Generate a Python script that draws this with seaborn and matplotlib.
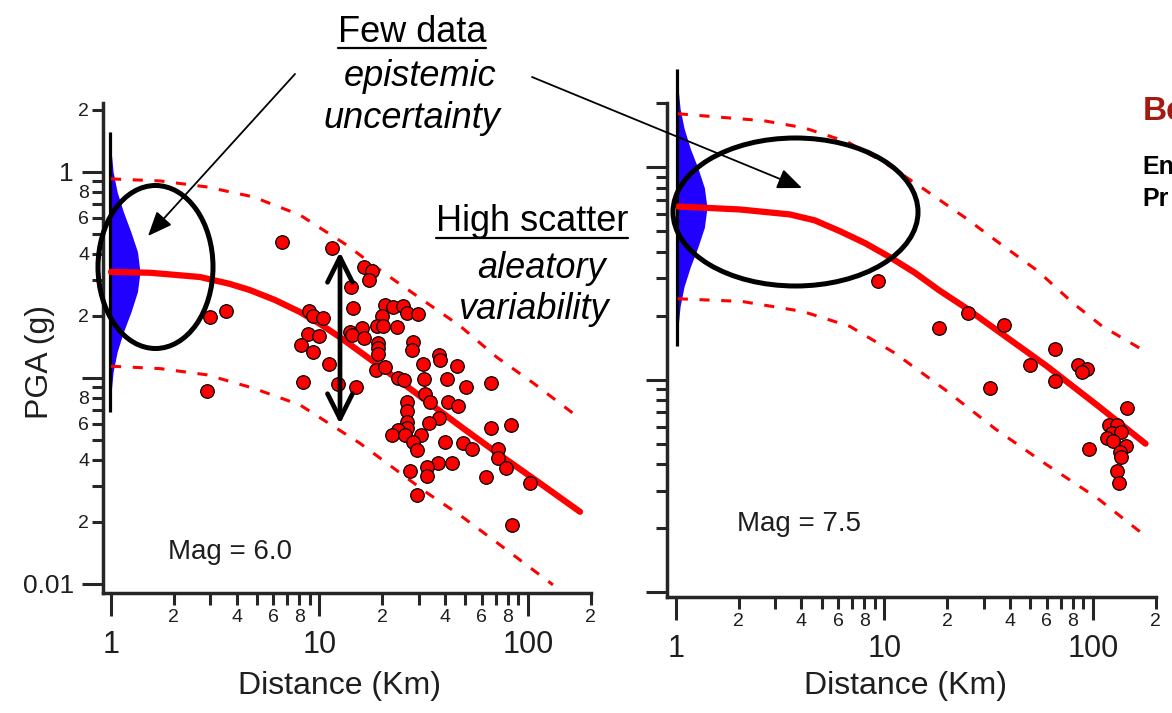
import seaborn as sns
import matplotlib.pyplot as plt
from matplotlib.patches import Ellipse, FancyArrowPatch
from matplotlib.lines import Line2D

W, H = 1172, 713

# ---- Mag 6.0 panel: recordings (distance km, PGA g) ----
m6_dist = [6.6, 11.5, 16.3, 17.9, 17.3, 14.2, 14.5, 8.9, 9.3, 10.4,
           20.6, 22.5, 25.1, 26.3, 29.7, 19.9, 18.9, 20.2, 23.5, 16.0,
           14.0, 14.3, 16.3, 8.8, 9.95, 8.2, 9.3, 19.1, 19.1, 19.1,
           28.1, 27.8, 37.4, 37.8, 11.1, 31.3, 45.6, 18.7, 20.6, 23.8,
           25.4, 31.7, 40.9, 50.4, 66.5, 8.3, 12.3, 15.0, 32.1, 33.9,
           26.3, 26.3, 41.3, 46.1, 37.4, 33.5, 26.3, 26.3, 23.8, 22.3,
           25.7, 30.7, 28.1, 29.4, 40.0, 48.8, 53.9, 66.5, 82.9, 71.8,
           71.8, 78.4, 37.0, 43.2, 32.8, 27.2, 32.8, 62.9, 102, 29.4,
           83.8, 3.0, 3.56, 2.89]
m6_pga = [0.457, 0.428, 0.346, 0.330, 0.299, 0.277, 0.219, 0.211, 0.200, 0.196,
          0.226, 0.221, 0.224, 0.207, 0.205, 0.200, 0.179, 0.179, 0.177, 0.175,
          0.167, 0.162, 0.156, 0.164, 0.160, 0.145, 0.134, 0.148, 0.140, 0.131,
          0.150, 0.137, 0.129, 0.122, 0.117, 0.117, 0.114, 0.109, 0.113, 0.100,
          0.098, 0.099, 0.099, 0.0904, 0.0945, 0.096, 0.0935, 0.0904, 0.0836, 0.0765,
          0.0765, 0.0692, 0.0765, 0.0731, 0.0640, 0.0605, 0.0611, 0.0571, 0.0560, 0.0529,
          0.0529, 0.0529, 0.0489, 0.0447, 0.0489, 0.0484, 0.0452, 0.0571, 0.0591, 0.0452,
          0.0409, 0.0366, 0.0387, 0.0387, 0.0370, 0.0354, 0.0334, 0.0331, 0.0309, 0.0270,
          0.0193, 0.198, 0.211, 0.0865]

# median and +/- curves
m6_med_dist = [1.0, 1.54, 2.67, 3.72, 4.64, 6.12, 8.06, 10.05, 12.5, 19.5, 30.3, 47.2,
               73.4, 114, 178]
m6_med_pga = [0.327, 0.324, 0.309, 0.286, 0.267, 0.239, 0.209, 0.183, 0.158, 0.114,
              0.0818, 0.0585, 0.0423, 0.0309, 0.0224]
m6_hi_dist = [1.0, 1.72, 2.89, 4.80, 8.06, 13.5, 19.5, 31.3, 47.2, 71.0, 106, 164]
m6_hi_pga = [0.925, 0.904, 0.845, 0.757, 0.618, 0.442, 0.334, 0.239, 0.179, 0.126, 0.0946, 0.0676]
m6_lo_dist = [1.0, 1.72, 2.89, 4.80, 8.06, 15.6, 32.8, 47.2, 73.4, 132]
m6_lo_pga = [0.114, 0.111, 0.1035, 0.0893, 0.0740, 0.0483, 0.0277, 0.0216, 0.0155, 0.0099]

# distribution sketch at 1 km (pga level, right edge distance)
m6_blue_pga = [1.57, 1.25, 1.00, 0.80, 0.64, 0.51, 0.41, 0.327, 0.262, 0.209, 0.167, 0.134,
               0.107, 0.0855, 0.0684]
m6_blue_edge = [0.993, 1.002, 1.023, 1.070, 1.146, 1.246, 1.339, 1.377, 1.339, 1.246, 1.146,
                1.070, 1.023, 1.002, 0.993]
m6_blue_base = 0.989

# ---- Mag 7.5 panel ----
m75_dist = [9.29, 25.1, 18.2, 37.3, 65.5, 50.2, 85.3, 94.2, 89.1, 66.2, 32.0, 146.5,
            120, 131, 124, 137, 117.5, 125.5, 145, 135.6, 137, 96.3, 131, 134]
m75_pga = [0.292, 0.205, 0.175, 0.180, 0.139, 0.1175, 0.1175, 0.1125, 0.109, 0.098, 0.0908, 0.0733,
           0.0611, 0.0611, 0.0561, 0.0566, 0.0532, 0.0515, 0.0488, 0.0457, 0.0430, 0.0472, 0.0373, 0.0325]

m75_med_dist = [1.02, 2.03, 3.52, 4.63, 6.11, 8.05, 10.6, 14.0, 18.4, 24.3, 35.7, 59.9, 105, 179]
m75_med_pga = [0.652, 0.631, 0.598, 0.561, 0.499, 0.439, 0.377, 0.318, 0.262, 0.219, 0.167,
               0.116, 0.0757, 0.0499]
m75_hi_dist = [1.02, 2.64, 4.10, 6.67, 10.0, 16.1, 24.3, 36.1, 54.3, 80.7, 111, 171]
m75_hi_pga = [1.78, 1.65, 1.53, 1.31, 1.05, 0.766, 0.579, 0.434, 0.325, 0.228, 0.178, 0.139]
m75_lo_dist = [1.02, 2.07, 4.06, 6.82, 11.1, 19.5, 34.1, 59.9, 105, 171]
m75_lo_pga = [0.240, 0.233, 0.209, 0.178, 0.134, 0.0897, 0.0585, 0.0398, 0.0277, 0.0190]

m75_blue_pga = [2.88, 2.33, 1.88, 1.52, 1.22, 0.989, 0.798, 0.644, 0.520, 0.420, 0.339, 0.274,
                0.221, 0.178, 0.144]
m75_blue_edge = [1.016, 1.024, 1.046, 1.093, 1.171, 1.273, 1.368, 1.408, 1.368, 1.273, 1.171,
                 1.093, 1.046, 1.024, 1.016]
m75_blue_base = 1.011

# ---- ticks ----
x_major = [1, 10, 100]
x_major_lbl = ['1', '10', '100']
x_minor = [2, 3, 4, 5, 6, 7, 8, 9, 20, 30, 40, 50, 60, 70, 80, 90, 200]
x_minor_lbl = ['2', '', '4', '', '6', '', '8', '', '2', '', '4', '', '6', '', '8', '', '2']
y_major = [0.01, 0.1, 1]
y_major_lbl = ['0.01', '', '1']
y_minor = [0.02, 0.03, 0.04, 0.05, 0.06, 0.07, 0.08, 0.09,
           0.2, 0.3, 0.4, 0.5, 0.6, 0.7, 0.8, 0.9, 2]
y_minor_lbl = ['2', '', '4', '', '6', '', '8', '', '2', '', '4', '', '6', '', '8', '', '2']

sns.set_style('ticks')
plt.rcParams['font.family'] = ['Liberation Sans', 'DejaVu Sans']

RED = '#ff0000'
BLUE = '#2200ff'
INK = '#1e1e1e'


def fx(px):
    return px / W


def fy(py):
    return 1 - py / H


fig = plt.figure(figsize=(W / 100, H / 100), dpi=100)
ax1 = fig.add_axes([fx(103), fy(593), 488 / W, 490 / H])
ax2 = fig.add_axes([fx(667), fy(597), 489 / W, 494 / H])


def draw_panel(ax, dist, pga, med_d, med_p, hi_d, hi_p, lo_d, lo_p,
               blue_p, blue_e, blue_b, xlim, ylim, ylabels):
    ax.set_xscale('log')
    ax.set_yscale('log')
    ax.set_xlim(*xlim)
    ax.set_ylim(*ylim)

    ax.fill_betweenx(blue_p, blue_b, blue_e, color=BLUE, lw=0, zorder=2, clip_on=False)
    ax.plot([blue_b, blue_b], [blue_p[0], blue_p[-1]], color='black', lw=2.3,
            zorder=3, clip_on=False, solid_capstyle='butt')

    for d, p in [(hi_d, hi_p), (lo_d, lo_p)]:
        sns.lineplot(x=d, y=p, ax=ax, color=RED, lw=2.2, sort=False, estimator=None,
                     linestyle=(0, (3.3, 3.8)), zorder=3)
    sns.lineplot(x=med_d, y=med_p, ax=ax, color=RED, lw=4.5, sort=False,
                 estimator=None, zorder=4)
    sns.scatterplot(x=dist, y=pga, ax=ax, s=95, color=RED, edgecolor='black',
                    linewidth=0.9, zorder=5)

    ax.set_xticks(x_major, labels=x_major_lbl)
    ax.set_xticks(x_minor, labels=x_minor_lbl, minor=True)
    ax.set_yticks(y_major, labels=y_major_lbl)
    ax.set_yticks(y_minor, labels=y_minor_lbl, minor=True)
    ax.tick_params(axis='x', which='major', length=16.5, width=2.2, labelsize=22, pad=10,
                   labelcolor=INK)
    ax.tick_params(axis='x', which='minor', length=8.5, width=2.2, labelsize=14, pad=3,
                   labelcolor=INK)
    ax.tick_params(axis='y', which='major', length=15, width=2.2, labelsize=19, pad=6,
                   labelleft=ylabels, labelcolor=INK)
    ax.tick_params(axis='y', which='minor', length=8, width=2.2, labelsize=14, pad=2,
                   labelleft=ylabels, labelcolor=INK)
    for s in ['top', 'right']:
        ax.spines[s].set_visible(False)
    for s in ['left', 'bottom']:
        ax.spines[s].set_linewidth(2.5)
    ax.grid(False)
    ax.set_facecolor('none')


draw_panel(ax1, m6_dist, m6_pga, m6_med_dist, m6_med_pga, m6_hi_dist, m6_hi_pga,
           m6_lo_dist, m6_lo_pga, m6_blue_pga, m6_blue_edge, m6_blue_base,
           (0.915, 201), (0.00904, 2.16), True)
draw_panel(ax2, m75_dist, m75_pga, m75_med_dist, m75_med_pga, m75_hi_dist, m75_hi_pga,
           m75_lo_dist, m75_lo_pga, m75_blue_pga, m75_blue_edge, m75_blue_base,
           (0.905, 201), (0.00948, 1.88), False)

ax1.set_xlabel('Distance (Km)', fontsize=23, color=INK, va='center')
ax1.xaxis.set_label_coords((340 - 103) / 488, (593 - 686) / 490)
ax2.set_xlabel('Distance (Km)', fontsize=23, color=INK, va='center')
ax2.xaxis.set_label_coords((905 - 667) / 489, (597 - 686) / 494)
ax1.set_ylabel('PGA (g)', fontsize=23, color=INK, va='center', ha='center')
ax1.yaxis.set_label_coords((40 - 103) / 488, (593 - 362) / 490)

fig.text(fx(168), fy(552), 'Mag = 6.0', fontsize=20, color=INK, va='center')
fig.text(fx(737), fy(524), 'Mag = 7.5', fontsize=20, color=INK, va='center')

# annotations
ann = dict(fontsize=26, ha='center', va='center', color='black')
t_few = fig.text(fx(412), fy(32), 'Few data', **ann)
fig.text(fx(420), fy(76), 'epistemic', style='italic', **ann)
fig.text(fx(412), fy(118), 'uncertainty', style='italic', **ann)
t_high = fig.text(fx(532), fy(222), 'High scatter', **ann)
fig.text(fx(541), fy(268), 'aleatory', style='italic', **ann)
fig.text(fx(533), fy(310), 'variability', style='italic', **ann)

fig.text(fx(1143), fy(112), 'Be', fontsize=24, fontweight='bold', color='#a31a11', va='center')
fig.text(fx(1142), fy(167), 'En', fontsize=18, fontweight='bold', color='black', va='center')
fig.text(fx(1142), fy(199), 'Pr', fontsize=18, fontweight='bold', color='black', va='center')

fig.canvas.draw()
rend = fig.canvas.get_renderer()
for t, uy in [(t_few, 48), (t_high, 238)]:
    bb = t.get_window_extent(rend)
    fig.add_artist(Line2D([bb.x0 / W, bb.x1 / W], [fy(uy), fy(uy)], color='black', lw=1.6,
                          transform=fig.transFigure))

for (cx, cy, w, h) in [(155.5, 267, 115, 163), (795.5, 212, 245, 148)]:
    fig.add_artist(Ellipse((fx(cx), fy(cy)), w / W, h / H, transform=fig.transFigure,
                           fill=False, ec='black', lw=3.6, zorder=6))

for (x0, y0, x1, y1) in [(295, 74, 148, 236), (532, 77, 802, 188)]:
    fig.add_artist(FancyArrowPatch((fx(x0), fy(y0)), (fx(x1), fy(y1)),
                                   transform=fig.transFigure,
                                   arrowstyle='-|>,head_length=0.6,head_width=0.25',
                                   mutation_scale=25, lw=1.3, color='black',
                                   shrinkA=0, shrinkB=0, zorder=7))

fig.add_artist(FancyArrowPatch((fx(340), fy(252)), (fx(340), fy(424)),
                               transform=fig.transFigure,
                               arrowstyle='<->,head_length=0.4,head_width=0.2',
                               mutation_scale=45, lw=3.4, color='black',
                               shrinkA=0, shrinkB=0, zorder=7))

fig.savefig('out.png', dpi=100, facecolor='white')
